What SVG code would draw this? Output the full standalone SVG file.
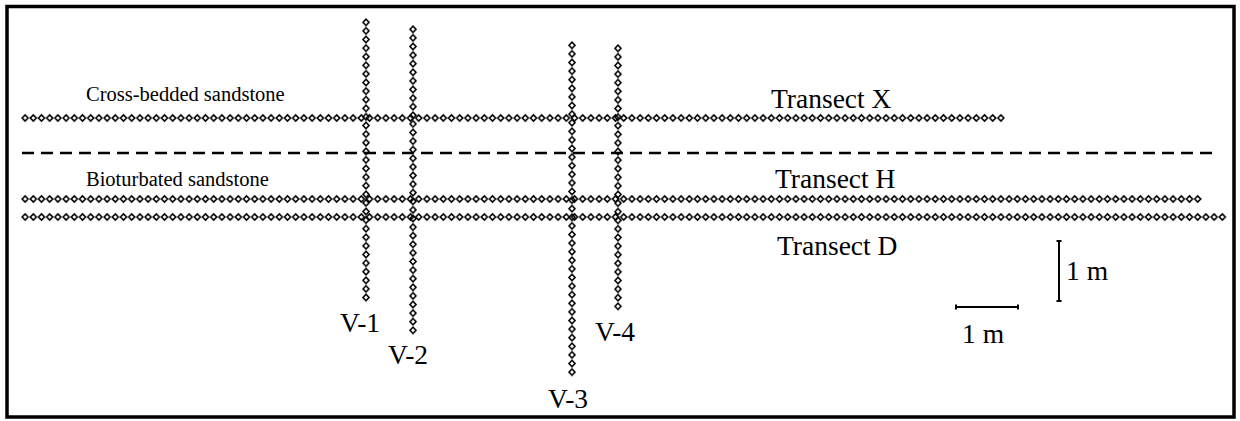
<svg xmlns="http://www.w3.org/2000/svg" width="1240" height="421" viewBox="0 0 1240 421">
  <style>
    .lbl { font-family: "Liberation Serif", "Times New Roman", serif; fill: #000; }
    .big { font-size: 27.5px; }
    .small { font-size: 20.5px; }
    .scale { stroke: #000; stroke-width: 2; fill: none; }
  </style>
  <defs>
    <pattern id="hdia" x="21" y="-5" width="8.2" height="10" patternUnits="userSpaceOnUse">
      <path d="M1.1,5 L4.1,2 L7.1,5 L4.1,8 Z" fill="none" stroke="#000" stroke-width="1.6"/>
    </pattern>
    <pattern id="vdia" x="-5" y="0" width="10" height="8.6" patternUnits="userSpaceOnUse">
      <path d="M2,4.3 L5,1.2 L8,4.3 L5,7.4 Z" fill="none" stroke="#000" stroke-width="1.6"/>
    </pattern>
  </defs>
  <rect x="0" y="0" width="1240" height="421" fill="#fff"/>
  <rect x="7" y="6.5" width="1227" height="410.5" fill="none" stroke="#000" stroke-width="3.5"/>

  <g id="transect-x">
    <g transform="translate(0,118)"><rect x="21" y="-5" width="984" height="10" fill="url(#hdia)"/></g>
    <text class="lbl big" x="771" y="108">Transect X</text>
  </g>
  <g id="transect-h">
    <g transform="translate(0,199)"><rect x="21" y="-5" width="1180.8" height="10" fill="url(#hdia)"/></g>
    <text class="lbl big" x="775" y="188">Transect H</text>
  </g>
  <g id="transect-d">
    <g transform="translate(0,217)"><rect x="21" y="-5" width="1205.4" height="10" fill="url(#hdia)"/></g>
    <text class="lbl big" x="777" y="255">Transect D</text>
  </g>

  <g id="v-1">
    <g transform="translate(366,18)"><rect x="-5" y="0" width="10" height="283.8" fill="url(#vdia)"/></g>
    <text class="lbl big" x="360" y="332" text-anchor="middle">V-1</text>
  </g>
  <g id="v-2">
    <g transform="translate(413,25)"><rect x="-5" y="0" width="10" height="309.6" fill="url(#vdia)"/></g>
    <text class="lbl big" x="408" y="364" text-anchor="middle">V-2</text>
  </g>
  <g id="v-3">
    <g transform="translate(572,41)"><rect x="-5" y="0" width="10" height="335.4" fill="url(#vdia)"/></g>
    <text class="lbl big" x="568" y="408" text-anchor="middle">V-3</text>
  </g>
  <g id="v-4">
    <g transform="translate(618,44)"><rect x="-5" y="0" width="10" height="266.6" fill="url(#vdia)"/></g>
    <text class="lbl big" x="615" y="341" text-anchor="middle">V-4</text>
  </g>

  <g id="units">
    <text class="lbl small" x="86" y="101">Cross-bedded sandstone</text>
    <text class="lbl small" x="86" y="186">Bioturbated sandstone</text>
  </g>

  <g id="connectors">
    <line x1="22" y1="153" x2="1213" y2="153" stroke="#000" stroke-width="2.6" stroke-dasharray="12 7"/>
  </g>

  <g id="scale-bars">
    <path class="scale" d="M1059,241 V301 M1056.5,241 H1061.5 M1056.5,301 H1061.5"/>
    <text class="lbl big" x="1066" y="280">1 m</text>
    <path class="scale" d="M956,307 H1018 M956,304.5 V309.5 M1018,304.5 V309.5"/>
    <text class="lbl big" x="962" y="343">1 m</text>
  </g>
</svg>
